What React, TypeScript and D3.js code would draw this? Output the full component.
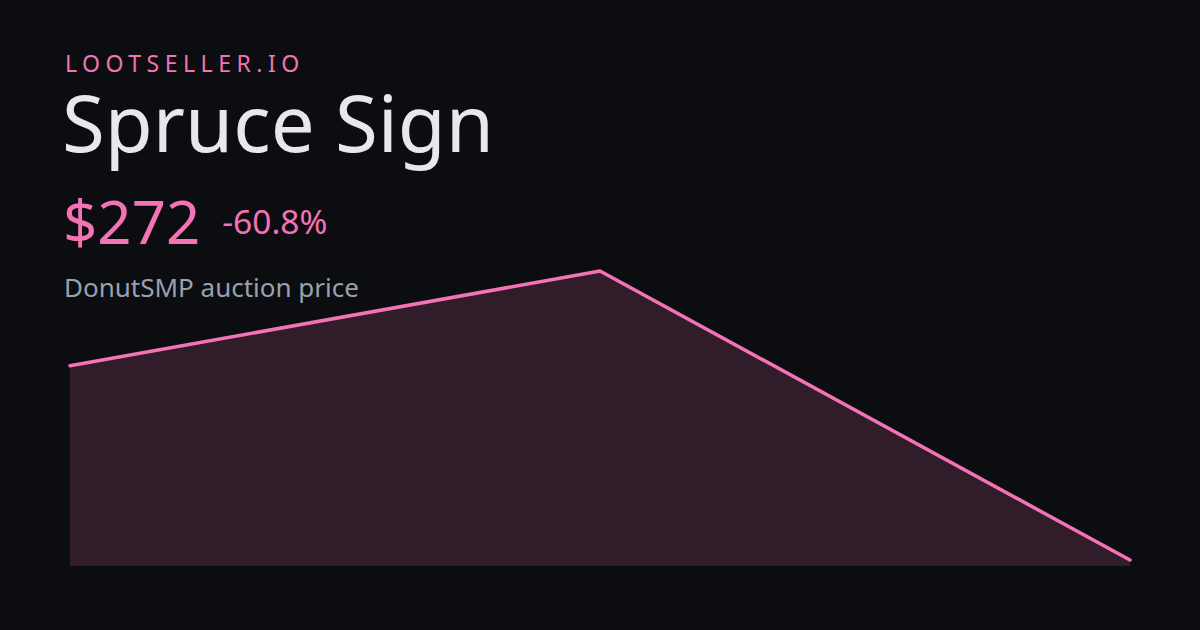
import { useRef, useEffect } from "react";
import * as d3 from "d3";

const brand = "LOOTSELLER.IO";
const itemName = "Spruce Sign";
const priceLabel = "$272";
const changeLabel = "-60.8%";
const subtitle = "DonutSMP auction price";

// price history, oldest first
const points = [0, 1, 2];
const prices = [694, 900, 272];

const WIDTH = 1200;
const HEIGHT = 630;
const PINK = "#f472b6";

export default function App() {
  const svgRef = useRef<SVGSVGElement>(null);

  useEffect(() => {
    if (!svgRef.current) return;
    const svg = d3.select(svgRef.current);
    svg.selectAll("*").remove();

    svg.append("rect").attr("width", WIDTH).attr("height", HEIGHT).attr("fill", "#0c0d10");

    const chart = { left: 70, right: 1130, top: 271, bottom: 560, floor: 566 };

    const x = d3.scaleLinear()
      .domain(d3.extent(points) as [number, number])
      .range([chart.left, chart.right]);
    const y = d3.scaleLinear()
      .domain(d3.extent(prices) as [number, number])
      .range([chart.bottom, chart.top]);

    const data = points.map((p, i) => ({ p, v: prices[i] }));

    const area = d3.area<{ p: number; v: number }>()
      .x((d) => x(d.p))
      .y0(chart.floor)
      .y1((d) => y(d.v));
    const line = d3.line<{ p: number; v: number }>()
      .x((d) => x(d.p))
      .y((d) => y(d.v));

    svg.append("path").attr("d", area(data)).attr("fill", PINK).attr("fill-opacity", 0.16);
    svg.append("path").attr("d", line(data))
      .attr("fill", "none")
      .attr("stroke", PINK)
      .attr("stroke-width", 3.5)
      .attr("stroke-linejoin", "round")
      .attr("stroke-linecap", "round");

    const font = "'Noto Sans', 'Open Sans', sans-serif";

    svg.append("text").attr("x", 65).attr("y", 72)
      .attr("font-family", font).attr("font-size", 23)
      .attr("letter-spacing", "5.5px")
      .attr("fill", PINK).text(brand);

    svg.append("text").attr("x", 62).attr("y", 152)
      .attr("font-family", font).attr("font-size", 78)
      .attr("fill", "#e7e8ec").text(itemName);

    const price = svg.append("text").attr("x", 63).attr("y", 244)
      .attr("font-family", font).attr("font-size", 60)
      .attr("fill", PINK).text(priceLabel);
    const pw = (price.node() as SVGTextElement).getComputedTextLength();

    svg.append("text").attr("x", 63 + pw + 22).attr("y", 234)
      .attr("font-family", font).attr("font-size", 33.5)
      .attr("fill", PINK).text(changeLabel);

    svg.append("text").attr("x", 64).attr("y", 297)
      .attr("font-family", font).attr("font-size", 26)
      .attr("fill", "#9aa0ae").text(subtitle);
  }, []);

  return (
    <svg
      ref={svgRef}
      width={WIDTH}
      height={HEIGHT}
      style={{ position: "absolute", left: 0, top: 0, display: "block" }}
    />
  );
}
